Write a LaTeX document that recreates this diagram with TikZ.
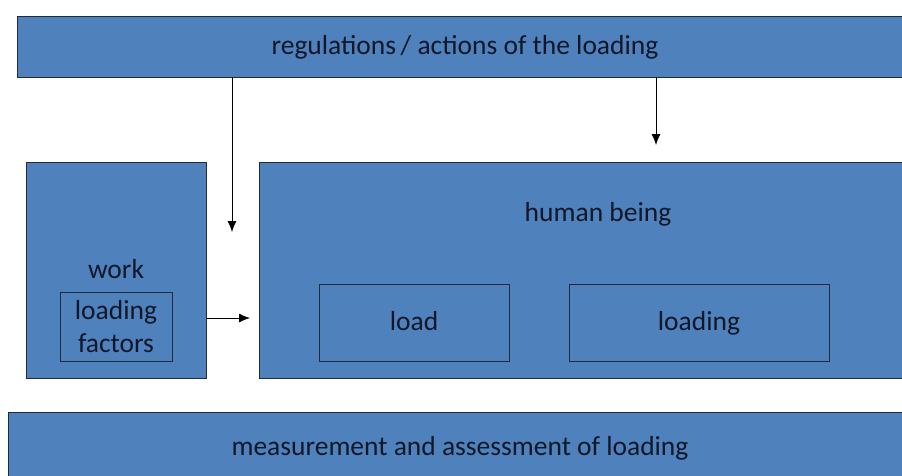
\documentclass[tikz,border=0pt]{standalone}
\usepackage{fontspec}
\setmainfont{Carlito}
\usetikzlibrary{arrows.meta}
\definecolor{boxblue}{HTML}{4F81BD}
\definecolor{boxline}{HTML}{1F2A3A}
\definecolor{ink}{HTML}{101828}
\tikzstyle{block}=[rectangle,draw=boxline,fill=boxblue,line width=0.9pt,inner sep=0pt,text=ink,font=\fontsize{27.5}{33}\selectfont,text height=16.5pt,text depth=0pt]
\tikzstyle{inner}=[rectangle,draw=boxline,line width=0.9pt,inner sep=0pt,text=ink,align=center,font=\fontsize{27.5}{33}\selectfont]
\tikzstyle{oneline}=[text height=16.5pt,text depth=0pt]
\tikzstyle{arrow}=[line width=0.8pt,-{Latex[length=11pt,width=9pt]}]

\begin{document}
\begin{tikzpicture}[x=1pt,y=1pt]
\clip (0,0) rectangle (902,-475);
\fill[white] (0,0) rectangle (902,-475);

\node (top) [block,minimum width=896,minimum height=61] at (465,-46.5) {regulations\,/ actions of the loading};
\node (work) [block,minimum width=180,minimum height=216] at (116,-270) {work};
\node (factors) [inner,minimum width=112,minimum height=69] at (116,-326.5) {loading\\factors};
\node (human) [block,minimum width=678,minimum height=216] at (598,-270) {};
\node (humanlabel) [inner,oneline,draw=none] at (598,-213) {human being};
\node (load) [inner,oneline,minimum width=190,minimum height=77] at (414,-322.5) {load};
\node (loading) [inner,oneline,minimum width=260,minimum height=77] at (699,-322.5) {loading};
\node (bottom) [block,minimum width=904,minimum height=70] at (460,-447) {measurement and assessment of loading};

\coordinate (tipwork) at (232,-232);
\coordinate (tiphuman) at (656,-145);
\coordinate (tipside) at (250,-318);
\draw[arrow] (top.south -| tipwork) -- (tipwork);
\draw[arrow] (top.south -| tiphuman) -- (tiphuman);
\draw[arrow] (work.east |- tipside) -- (tipside);
\end{tikzpicture}
\end{document}
